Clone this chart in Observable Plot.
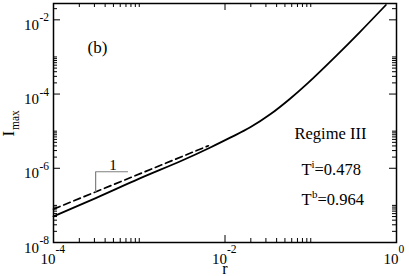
<!DOCTYPE html>
<html>
<head>
<meta charset="utf-8">
<script src="https://cdn.jsdelivr.net/npm/d3@7"></script>
<script src="https://cdn.jsdelivr.net/npm/@observablehq/plot@0.6"></script>
<style>
  html, body { margin: 0; padding: 0; background: white; }
  #chart { width: 409px; height: 276px; font-family: Liberation Serif; }
</style>
</head>
<body>
<div id="chart"></div>
<script>
// ---- data ----
const rSolid = [1e-4, 3.16e-4, 1e-3, 3.16e-3, 6.75e-3, 1.15e-2, 1.97e-2, 3.37e-2, 5.74e-2, 9.31e-2, 0.202, 0.374, 0.752];
const iSolid = [5.08e-8, 1.60e-7, 5.25e-7, 1.62e-6, 3.64e-6, 6.68e-6, 1.27e-5, 2.85e-5, 7.50e-5, 2.00e-4, 1.12e-3, 4.68e-3, 2.51e-2];

const rDashed = [1e-4, 6.4e-3];
const iDashed = [7.94e-8, 4.04e-6];

const rSlope = [3.1e-4, 3.1e-4, 7.3e-4];
const iSlope = [2.33e-7, 8.05e-7, 8.05e-7];

// ---- axes / ticks ----
const xMajor = [1e-4, 1e-2, 1];
const xMajorExp = ["-4", "-2", "0"];
const xMinor = [2e-4, 3e-4, 4e-4, 5e-4, 6e-4, 7e-4, 8e-4, 9e-4, 1e-3,
                2e-2, 3e-2, 4e-2, 5e-2, 6e-2, 7e-2, 8e-2, 9e-2, 1e-1];
const yMajor = [1e-8, 1e-6, 1e-4, 1e-2];
const yMajorExp = ["-8", "-6", "-4", "-2"];
const yMinor = [2e-8, 3e-8, 4e-8, 5e-8, 6e-8, 7e-8, 8e-8, 9e-8, 1e-7,
                2e-6, 3e-6, 4e-6, 5e-6, 6e-6, 7e-6, 8e-6, 9e-6, 1e-5,
                2e-4, 3e-4, 4e-4, 5e-4, 6e-4, 7e-4, 8e-4, 9e-4, 1e-3,
                2e-2];
const xDomain = [1e-4, 1];
const yDomain = [1e-8, Math.pow(10, -1.56)];

const xLabel = "r";
const yLabelMain = "I";
const yLabelSub = "max";
const panelLabel = "(b)";
const regimeLabel = "Regime III";
const tiValue = "=0.478";
const tbValue = "=0.964";
const slopeLabel = "1";

// ---- layout ----
const W = 409, H = 276;
const mL = 53, mR = 13, mT = 3, mB = 34;
const fw = W - mL - mR, fh = H - mT - mB;
const serif = "Liberation Serif";

const solid = rSolid.map((r, i) => ({r, I: iSolid[i]}));
const dashed = rDashed.map((r, i) => ({r, I: iDashed[i]}));
const slope = rSlope.map((r, i) => ({r, I: iSlope[i]}));

const one = [0];
const T = (o) => Object.assign({fill: "black", fontFamily: serif, lineAnchor: "bottom"}, o);

const chart = Plot.plot({
  width: W, height: H,
  marginLeft: mL, marginRight: mR, marginTop: mT, marginBottom: mB,
  style: {background: "white", color: "black"},
  x: {type: "log", domain: xDomain, axis: null},
  y: {type: "log", domain: yDomain, axis: null},
  marks: [
    // inward ticks, all four sides
    Plot.tickX(xMinor, {x: d => d, insetTop: fh - 4, stroke: "black", strokeWidth: 1}),
    Plot.tickX(xMinor, {x: d => d, insetBottom: fh - 4, stroke: "black", strokeWidth: 1}),
    Plot.tickX(xMajor, {x: d => d, insetTop: fh - 7, stroke: "black", strokeWidth: 1}),
    Plot.tickX(xMajor, {x: d => d, insetBottom: fh - 7, stroke: "black", strokeWidth: 1}),
    Plot.tickY(yMinor, {y: d => d, insetRight: fw - 4, stroke: "black", strokeWidth: 1}),
    Plot.tickY(yMinor, {y: d => d, insetLeft: fw - 4, stroke: "black", strokeWidth: 1}),
    Plot.tickY(yMajor, {y: d => d, insetRight: fw - 7, stroke: "black", strokeWidth: 1}),
    Plot.tickY(yMajor, {y: d => d, insetLeft: fw - 7, stroke: "black", strokeWidth: 1}),
    Plot.frame({stroke: "black", strokeWidth: 1.5}),

    // curves
    Plot.line(dashed, {x: "r", y: "I", stroke: "black", strokeWidth: 1.7, strokeDasharray: "7,4"}),
    Plot.line(solid, {x: "r", y: "I", stroke: "black", strokeWidth: 1.8, curve: "catmull-rom"}),
    Plot.line(slope, {x: "r", y: "I", stroke: "#808080", strokeWidth: 1.2}),

    // tick labels x
    Plot.text(xMajor, T({x: d => d, frameAnchor: "bottom", text: () => "10", textAnchor: "end",
      dx: 2, dy: 21, fontSize: 15})),
    Plot.text(xMajor, T({x: d => d, frameAnchor: "bottom", text: (d, i) => xMajorExp[i], textAnchor: "start",
      dx: 2, dy: 10, fontSize: 11.5})),
    // tick labels y
    Plot.text(yMajor, T({y: d => d, frameAnchor: "left", text: () => "10", textAnchor: "end",
      dx: -14.5, dy: 10, fontSize: 15})),
    Plot.text(yMajor, T({y: d => d, frameAnchor: "left", text: (d, i) => yMajorExp[i], textAnchor: "start",
      dx: -14, dy: 1.5, fontSize: 11.5})),

    // axis titles
    Plot.text(one, T({frameAnchor: "bottom", text: () => xLabel, textAnchor: "middle", dy: 31.5, fontSize: 16})),
    Plot.text(one, T({frameAnchor: "left", text: () => yLabelMain, rotate: -90, textAnchor: "start",
      dx: -40, dy: 13.5, fontSize: 17})),
    Plot.text(one, T({frameAnchor: "left", text: () => yLabelSub, rotate: -90, textAnchor: "start",
      dx: -35, dy: 7, fontSize: 11.5})),

    // annotations
    Plot.text(one, T({frameAnchor: "top-left", text: () => panelLabel, textAnchor: "middle", dx: 44, dy: 49, fontSize: 17})),
    Plot.text(one, T({frameAnchor: "top-left", text: () => slopeLabel, textAnchor: "middle", dx: 59.5, dy: 166, fontSize: 15})),
    Plot.text(one, T({frameAnchor: "top-left", text: () => regimeLabel, textAnchor: "middle", dx: 277, dy: 135, fontSize: 16.5})),
    Plot.text(one, T({frameAnchor: "top-left", text: () => "T", textAnchor: "start", dx: 248, dy: 171.3, fontSize: 16.5})),
    Plot.text(one, T({frameAnchor: "top-left", text: () => "i", textAnchor: "start", dx: 258, dy: 164, fontSize: 11})),
    Plot.text(one, T({frameAnchor: "top-left", text: () => tiValue, textAnchor: "start", dx: 261, dy: 171.3, fontSize: 16.5})),
    Plot.text(one, T({frameAnchor: "top-left", text: () => "T", textAnchor: "start", dx: 248, dy: 201.5, fontSize: 16.5})),
    Plot.text(one, T({frameAnchor: "top-left", text: () => "b", textAnchor: "start", dx: 258.5, dy: 194.5, fontSize: 11})),
    Plot.text(one, T({frameAnchor: "top-left", text: () => tbValue, textAnchor: "start", dx: 264, dy: 201.5, fontSize: 16.5}))
  ]
});
document.getElementById("chart").appendChild(chart);
</script>
</body>
</html>
